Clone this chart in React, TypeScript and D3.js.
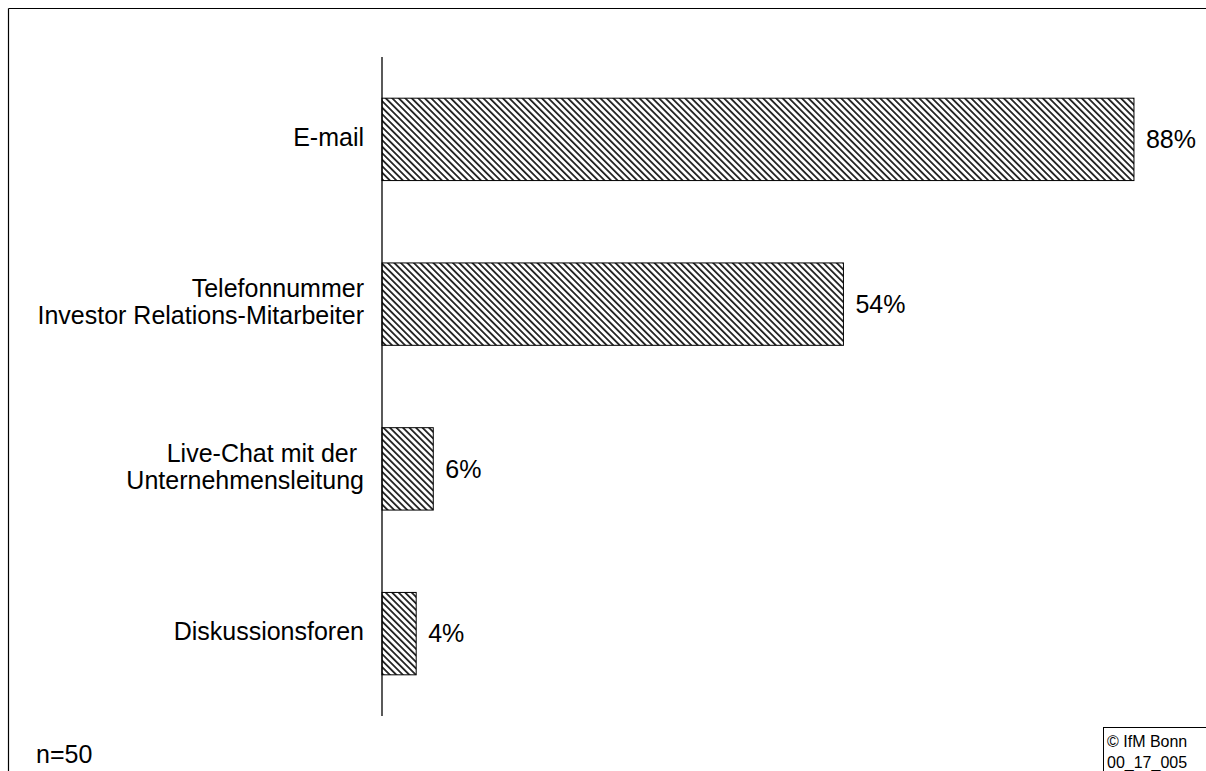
import React from "react";
import * as d3 from "d3";

const categories = ["E-mail", "Telefonnummer\nInvestor Relations-Mitarbeiter", "Live-Chat mit der \nUnternehmensleitung", "Diskussionsforen"];
const values = [88, 54, 6, 4];
const valueLabels = ["88%", "54%", "6%", "4%"];
const sampleNote = "n=50";
const copyright = ["© IfM Bonn", "00_17_005"];

export default function App() {
  const W = 1206, H = 771;
  const axisX = 382;
  const x = d3.scaleLinear().domain([0, 100]).range([axisX, axisX + 854.5]);
  const y = d3.scaleBand<number>().domain(d3.range(categories.length)).range([57, 716]).paddingInner(0.5).paddingOuter(0.25);
  const font = "Arial, 'Liberation Sans', sans-serif";
  return (
    <svg width={W} height={H} style={{ position: "absolute", left: 0, top: 0, display: "block" }} fontFamily={font}>
      <defs>
        <pattern id="hatch" patternUnits="userSpaceOnUse" width="4.6" height="4.6" patternTransform="rotate(-45)">
          <rect width="4.6" height="4.6" fill="#fff" />
          <rect x="0" y="0" width="1.8" height="4.6" fill="#222" />
        </pattern>
      </defs>
      <rect x={0} y={0} width={W} height={H} fill="#fff" />
      <line x1={8.5} y1={8.5} x2={W} y2={8.5} stroke="#000" strokeWidth={1.2} />
      <line x1={8.5} y1={8.5} x2={8.5} y2={H} stroke="#000" strokeWidth={1.2} />
      {values.map((v, i) => {
        const y0 = y(i)!;
        const bw = y.bandwidth();
        const lines = categories[i].split("\n");
        const cy = y0 + bw / 2;
        return (
          <g key={i}>
            <rect x={axisX} y={y0} width={x(v) - axisX} height={bw} fill="url(#hatch)" stroke="#000" strokeWidth={1} />
            <text x={x(v) + 12} y={cy} dy="0.35em" fontSize={25} fill="#000">{valueLabels[i]}</text>
            {lines.map((l, j) => (
              <text key={j} x={364} y={cy - 2 + (j - (lines.length - 1) / 2) * 27} dy="0.35em" fontSize={25} textAnchor="end" fill="#000" style={{ whiteSpace: "pre" }}>{l}</text>
            ))}
          </g>
        );
      })}
      <line x1={axisX} y1={57} x2={axisX} y2={716} stroke="#000" strokeWidth={1.3} />
      <text x={36} y={763} fontSize={25} fill="#000">{sampleNote}</text>
      <rect x={1103.5} y={727.5} width={120} height={60} fill="#fff" stroke="#000" strokeWidth={1} />
      <text x={1107} y={747} fontSize={16} fill="#000">{copyright[0]}</text>
      <text x={1107} y={768} fontSize={16} fill="#000">{copyright[1]}</text>
    </svg>
  );
}
